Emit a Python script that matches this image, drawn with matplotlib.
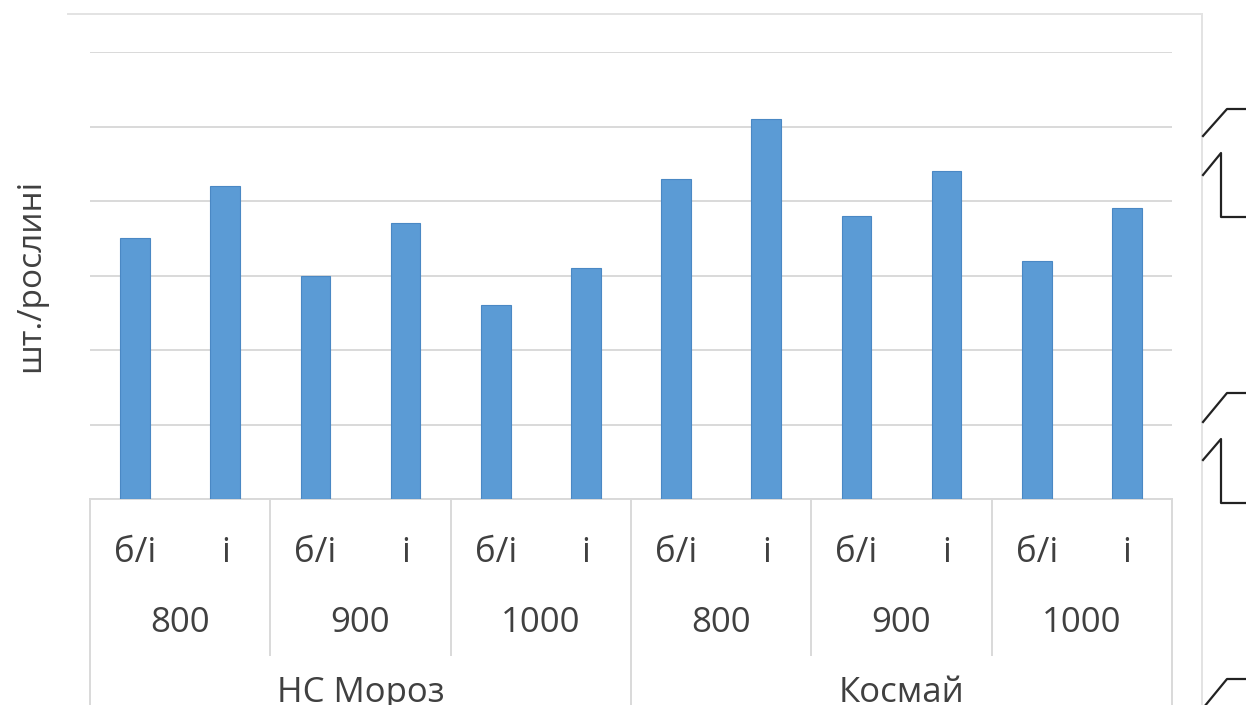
import matplotlib
matplotlib.use("Agg")
import matplotlib.pyplot as plt
from matplotlib.lines import Line2D

plt.rcParams['font.family'] = ['Open Sans', 'DejaVu Sans']

# bar heights, in order: variety -> density -> treatment
values = [3.5, 4.2, 3.0, 3.7, 2.6, 3.1, 4.3, 5.1, 3.8, 4.4, 3.2, 3.9]
treatments = ["б/і", "і"]
densities = ["800", "900", "1000"]
varieties = ["НС Мороз", "Космай"]
ylabel = "шт./рослині"

W, H = 1246, 705
text_col = "#404040"
grid_col = "#d9d9d9"
bar_col = "#5b9bd5"

fig = plt.figure(figsize=(W / 100, H / 100), dpi=100)
fig.patch.set_facecolor("white")


def fx(x):
    return x / W


def fy(y):
    return 1 - y / H


ax = fig.add_axes([fx(90), fy(499), fx(1172) - fx(90), fy(52) - fy(499)])

x = list(range(len(values)))
ax.bar(x, values, width=0.33, color=bar_col, edgecolor="#4a88c4", linewidth=0.8, zorder=3)

ax.set_xlim(-0.5, len(values) - 0.5)
ax.set_ylim(0, 6)
ax.set_yticks(range(0, 7))
ax.yaxis.grid(True, color=grid_col, linewidth=1.4, zorder=0)
ax.tick_params(left=False, labelleft=False, bottom=False, labelbottom=False)
for side in ["left", "right", "top"]:
    ax.spines[side].set_visible(False)
ax.spines["bottom"].set_color(grid_col)
ax.spines["bottom"].set_linewidth(1.4)

# three-row category table below the axis
tr = ax.get_xaxis_transform()
row1, row2, row3 = -0.12, -0.278, -0.434
n_t = len(treatments)
n_d = len(densities)

for i in x:
    ax.text(i, row1, treatments[i % n_t], transform=tr, ha="center", va="center",
            fontsize=25, color=text_col)

for j in range(len(varieties) * n_d):
    ax.text(j * n_t + (n_t - 1) / 2, row2, densities[j % n_d], transform=tr,
            ha="center", va="center", fontsize=25, color=text_col)
    if j % n_d != 0:
        ax.plot([j * n_t - 0.5] * 2, [0, -0.35], transform=tr, color=grid_col,
                linewidth=1.4, clip_on=False)

for k, name in enumerate(varieties):
    ax.text(k * n_t * n_d + (n_t * n_d - 1) / 2, row3, name, transform=tr,
            ha="center", va="center", fontsize=25, color=text_col)
    ax.plot([k * n_t * n_d - 0.5] * 2, [0, -0.47], transform=tr, color=grid_col,
            linewidth=1.4, clip_on=False)
ax.plot([len(values) - 0.5] * 2, [0, -0.47], transform=tr, color=grid_col,
        linewidth=1.4, clip_on=False)

fig.text(fx(31), fy(275), ylabel, rotation=90, ha="center", va="center",
         fontsize=24, color=text_col)

# chart frame
fig.add_artist(Line2D([fx(68), fx(1202)], [fy(14), fy(14)], color="#e3e3e3", linewidth=1.4))
fig.add_artist(Line2D([fx(1202), fx(1202)], [fy(14), fy(706)], color="#e3e3e3", linewidth=1.4))

# connector shapes on the right edge
shapes = [
    [(1203, 136), (1227, 109), (1247, 109)],
    [(1203, 175), (1221, 153), (1221, 217), (1247, 217)],
    [(1203, 422), (1227, 393), (1247, 393)],
    [(1203, 460), (1221, 439), (1221, 503), (1247, 503)],
    [(1204, 707), (1227, 679), (1247, 679)],
]
for pts in shapes:
    fig.add_artist(Line2D([fx(p[0]) for p in pts], [fy(p[1]) for p in pts],
                          color="#222222", linewidth=1.6))

fig.savefig("out.png", dpi=100)
